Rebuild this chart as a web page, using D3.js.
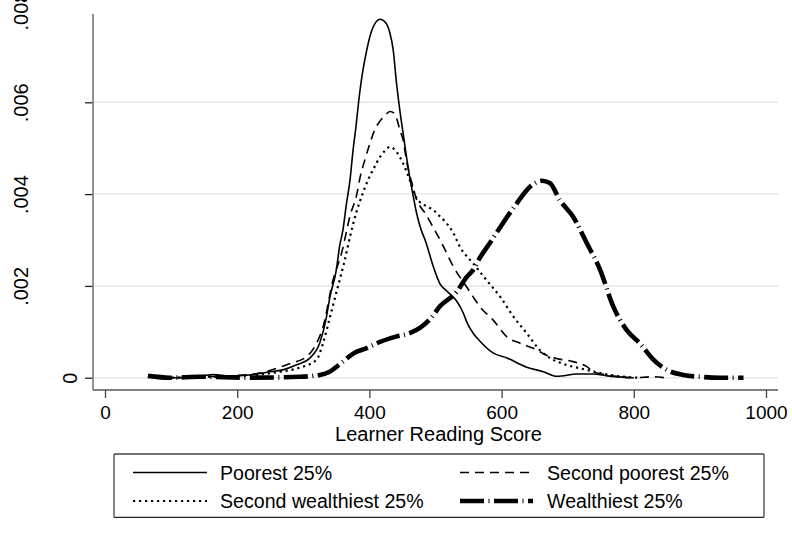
<!DOCTYPE html>
<html>
<head>
<meta charset="utf-8">
<script src="https://cdn.jsdelivr.net/npm/d3@7"></script>
<style>
  html, body { margin: 0; padding: 0; background: #fff; }
  svg { display: block; }
  text { font-family: "Liberation Sans", Arial, Helvetica, sans-serif; fill: #000; }
</style>
</head>
<body>
<svg id="chart" width="792" height="533"></svg>
<script>
// Kernel density estimates of learner reading scores by household wealth quartile
// Each series: [score, density] pairs

const xTicks = [0, 200, 400, 600, 800, 1000];
const yTicks = [0, 0.002, 0.004, 0.006, 0.008];
const yTickLabels = ["0", ".002", ".004", ".006", ".008"];
const xTitle = "Learner Reading Score";
const seriesNames = ["Poorest 25%", "Second poorest 25%", "Second wealthiest 25%", "Wealthiest 25%"];

const poorest = [
  [65,0.00004],[93,0],[129,0],[163,0.00007],[189,0.00004],[219,0.00006],[245,0.00012],[269,0.00017],
  [290,0.00028],[310,0.00043],[325,0.00076],[335,0.00132],[340,0.00174],[350,0.00235],[355,0.00287],
  [360,0.00322],[365,0.00376],[371,0.00435],[375,0.00492],[380,0.00551],[384,0.00605],[389,0.00659],
  [396,0.00714],[404,0.00758],[416,0.00781],[425,0.00773],[431,0.00751],[436,0.00714],[441,0.00642],
  [446,0.00583],[451,0.00533],[455,0.00492],[461,0.00437],[466,0.00398],[471,0.00361],[477,0.00328],
  [486,0.00293],[496,0.00245],[507,0.00204],[517,0.00189],[532,0.00167],[542,0.00141],[548,0.00119],
  [557,0.00097],[567,0.00080],[587,0.00054],[608,0.00043],[638,0.00023],[663,0.00013],[684,0.00003],
  [714,0.00008],[738,0.00008],[760,0.00004],[794,0]
];

const secondPoorest = [
  [65,0.00003],[98,0],[144,0.00002],[189,0.00004],[234,0.00010],[265,0.00023],[280,0.00031],[305,0.00046],
  [320,0.00075],[330,0.00111],[345,0.00213],[358,0.00272],[371,0.00354],[381,0.00400],[386,0.00437],
  [393,0.00474],[401,0.00511],[408,0.00540],[416,0.00559],[424,0.00572],[431,0.00580],[437,0.00577],
  [441,0.00566],[446,0.00540],[451,0.00518],[456,0.00474],[461,0.00441],[466,0.00416],[470,0.00394],
  [477,0.00373],[484,0.00359],[497,0.00326],[507,0.00300],[516,0.00274],[527,0.00242],[537,0.00219],
  [547,0.00198],[557,0.00176],[567,0.00155],[587,0.00126],[608,0.00089],[628,0.00075],[648,0.00064],
  [668,0.00049],[683,0.00042],[708,0.00035],[729,0.00024],[739,0.00013],[759,0.00006],[799,0],
  [829,0.00002],[847,0]
];

const secondWealthiest = [
  [65,0.00003],[98,0],[144,0.00002],[189,0.00003],[227,0.00006],[265,0.00013],[290,0.00020],[320,0.00039],
  [330,0.00076],[340,0.00130],[351,0.00191],[362,0.00252],[371,0.00309],[380,0.00359],[389,0.00398],
  [398,0.00431],[407,0.00457],[416,0.00481],[424,0.00495],[431,0.00503],[441,0.00492],[451,0.00467],
  [461,0.00431],[471,0.00392],[487,0.00373],[497,0.00365],[507,0.00351],[517,0.00336],[527,0.00315],
  [537,0.00285],[557,0.00249],[577,0.00213],[598,0.00176],[618,0.00133],[638,0.00097],[658,0.00060],
  [678,0.00039],[698,0.00028],[729,0.00017],[749,0.00010],[779,0.00003],[809,0]
];

const wealthiest = [
  [65,0.00004],[98,0],[144,0.00002],[219,0],[295,0.00002],[325,0.00006],[340,0.00013],[360,0.00035],
  [376,0.00053],[395,0.00064],[416,0.00078],[439,0.00089],[461,0.00097],[477,0.00109],[492,0.00128],
  [507,0.00156],[532,0.00187],[547,0.00219],[557,0.00235],[567,0.00261],[582,0.00293],[598,0.00328],
  [623,0.00380],[643,0.00416],[661,0.00429],[673,0.00424],[688,0.00387],[708,0.00351],[729,0.00293],
  [749,0.00235],[769,0.00155],[789,0.00104],[809,0.00075],[830,0.00039],[850,0.00017],[875,0.00006],
  [900,0.00002],[930,0],[966,0]
];

const series = [poorest, secondPoorest, secondWealthiest, wealthiest];

// Line styles for the four quartiles
const styles = [
  { width: 1.6, dash: null, cap: "butt" },
  { width: 1.6, dash: "9,6", cap: "butt" },
  { width: 2.2, dash: "2.2,3.8", cap: "butt" },
  { width: 4.6, dash: "24,4.5,1,4.5", cap: "butt" }
];

const svg = d3.select("#chart");

// Plot region
const region = { left: 93, right: 778, top: 14, bottom: 390 };

const x = d3.scaleLinear().domain([0, 1000]).range([105, 766]);
const y = d3.scaleLinear().domain([0, 0.008]).range([377.7, 10.5]);

// Horizontal grid lines
svg.append("g")
  .selectAll("line")
  .data(yTicks.filter(v => y(v) >= region.top))
  .join("line")
  .attr("x1", region.left).attr("x2", region.right)
  .attr("y1", d => y(d)).attr("y2", d => y(d))
  .attr("stroke", "#e6e6e6")
  .attr("stroke-width", 1.5);

// Density curves
const line = d3.line()
  .x(d => x(d[0]))
  .y(d => y(d[1]))
  .curve(d3.curveMonotoneX);

svg.append("g")
  .selectAll("path")
  .data(series)
  .join("path")
  .attr("d", d => line(d))
  .attr("fill", "none")
  .attr("stroke", "#000")
  .attr("stroke-width", (d, i) => styles[i].width)
  .attr("stroke-dasharray", (d, i) => styles[i].dash)
  .attr("stroke-linecap", (d, i) => styles[i].cap)
  .attr("stroke-linejoin", "round");

// X axis
const xAxis = d3.axisBottom(x)
  .tickValues(xTicks)
  .tickFormat(d3.format("d"))
  .tickSize(8)
  .tickSizeOuter(0);

const gx = svg.append("g")
  .attr("transform", `translate(0,${region.bottom})`)
  .call(xAxis);
gx.select(".domain").remove();
gx.selectAll(".tick line").attr("stroke", "#444").attr("stroke-width", 1.3);
gx.selectAll(".tick text")
  .attr("y", 29)
  .attr("dy", 0)
  .style("font-size", "19px")
  .style("font-family", "'Liberation Sans', Arial, sans-serif")
  .attr("fill", "#000");

svg.append("line")
  .attr("x1", region.left).attr("x2", region.right)
  .attr("y1", region.bottom).attr("y2", region.bottom)
  .attr("stroke", "#555").attr("stroke-width", 1.5);

// Y axis
const yAxis = d3.axisLeft(y)
  .tickValues(yTicks)
  .tickFormat((d, i) => yTickLabels[i])
  .tickSize(8)
  .tickSizeOuter(0);

const gy = svg.append("g")
  .attr("transform", `translate(${region.left},0)`)
  .call(yAxis);
gy.select(".domain").remove();
gy.selectAll(".tick line")
  .attr("stroke", "#222")
  .attr("stroke-width", 1.3)
  .style("display", d => y(d) < region.top ? "none" : null);
gy.selectAll(".tick text")
  .attr("x", null).attr("dy", null)
  .attr("text-anchor", "middle")
  .attr("transform", d => `translate(${d === 0 ? -16 : -65.5},0) rotate(-90)`)
  .style("font-size", "20px")
  .style("font-family", "'Liberation Sans', Arial, sans-serif")
  .attr("fill", "#000");

svg.append("line")
  .attr("x1", region.left).attr("x2", region.left)
  .attr("y1", region.top).attr("y2", region.bottom)
  .attr("stroke", "#777").attr("stroke-width", 1.6);

// Axis title
svg.append("text")
  .attr("x", 438.5)
  .attr("y", 441)
  .attr("text-anchor", "middle")
  .style("font-size", "20px")
  .text(xTitle);

// Legend
const legend = svg.append("g");
const box = { left: 114, right: 764, top: 454, bottom: 517.3 };
legend.append("line")
  .attr("x1", box.left).attr("x2", box.right)
  .attr("y1", box.top).attr("y2", box.top)
  .attr("stroke", "#444").attr("stroke-width", 1.3);
legend.append("line")
  .attr("x1", box.left).attr("x2", box.right)
  .attr("y1", box.bottom).attr("y2", box.bottom)
  .attr("stroke", "#222").attr("stroke-width", 1.3);
legend.append("line")
  .attr("x1", box.left).attr("x2", box.left)
  .attr("y1", box.top).attr("y2", box.bottom)
  .attr("stroke", "#444").attr("stroke-width", 1.3);
legend.append("line")
  .attr("x1", box.right).attr("x2", box.right)
  .attr("y1", box.top).attr("y2", box.bottom)
  .attr("stroke", "#444").attr("stroke-width", 1.3);

const keyCols = [{ k0: 133, k1: 207, t: 220 }, { k0: 460, k1: 533, t: 547 }];
const keyRows = [472.5, 501];

seriesNames.forEach((name, i) => {
  const col = keyCols[i % 2];
  const row = keyRows[Math.floor(i / 2)];
  legend.append("line")
    .attr("x1", col.k0).attr("x2", col.k1)
    .attr("y1", row).attr("y2", row)
    .attr("stroke", "#000")
    .attr("stroke-width", styles[i].width)
    .attr("stroke-dasharray", styles[i].dash)
    .attr("stroke-linecap", styles[i].cap);
  legend.append("text")
    .attr("x", col.t)
    .attr("y", row + 7)
    .style("font-size", "19.6px")
    .text(name);
});
</script>
</body>
</html>
